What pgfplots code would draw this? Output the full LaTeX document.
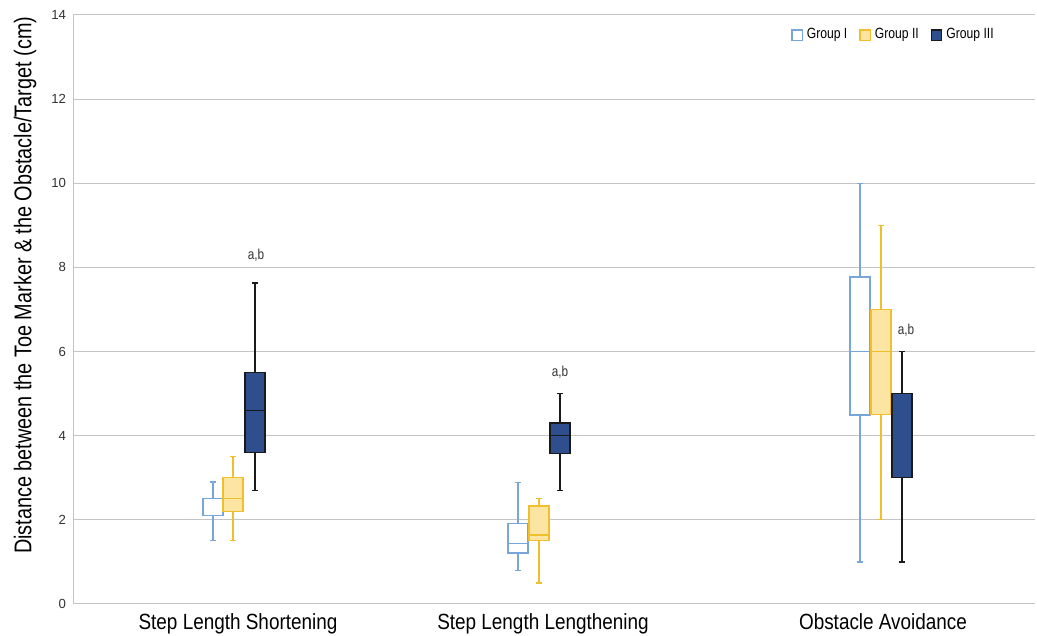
\documentclass[border=0pt]{standalone}
\usepackage{fontspec}
\setmainfont{Liberation Sans}
\newfontfamily\cond[FakeStretch=0.82]{Liberation Sans}
\newfontfamily\condb[FakeStretch=0.86]{Liberation Sans}
\usepackage{pgfplots}
\pgfplotsset{compat=1.18}
\usepgfplotslibrary{statistics}
\definecolor{gIe}{HTML}{78A5DA}
\definecolor{gIIe}{HTML}{F2BF2C}
\definecolor{gIIf}{HTML}{FCE5A3}
\definecolor{gIIIf}{HTML}{2F4E8E}
\definecolor{gIIIe}{HTML}{1A1A1A}
\definecolor{gridc}{HTML}{C4C4C4}
\begin{document}
\begin{tikzpicture}
\useasboundingbox (0pt,0pt) rectangle (518.5pt,318pt);
\begin{axis}[
  at={(36.5pt,16pt)}, anchor=south west,
  scale only axis, width=481pt, height=294.5pt,
  xmin=0.73, xmax=10.35, ymin=0, ymax=14,
  ytick={0,2,...,14},
  xtick={2.38,5.43,8.83},
  xticklabels={Step Length Shortening,Step Length Lengthening,Obstacle Avoidance},
  x tick label style={font=\condb\fontsize{11}{13}\selectfont, yshift=-1pt},
  y tick label style={font=\fontsize{6.6}{8}\selectfont, text=black!80},
  /pgf/number format/assume math mode=true,
  major tick length=0pt,
  ymajorgrids, grid style={gridc, line width=0.5pt},
  axis x line*=bottom, axis y line*=left,
  axis line style={gridc, line width=0.5pt},
  ylabel={Distance between the Toe Marker \& the Obstacle/Target (cm)},
  ylabel style={font=\cond\fontsize{12.1}{14}\selectfont, at={(ticklabel cs:0.541)}, yshift=0.5pt},
  legend style={at={(0.9678,0.9657)}, anchor=east, draw=none, fill=none,
    font=\cond\fontsize{7.4}{8}\selectfont, legend columns=3,
    /tikz/every even column/.append style={column sep=4pt}},
  legend image code/.code={\draw[#1] (0pt,-2.6pt) rectangle (5.2pt,2.6pt);},
  boxplot/draw direction=y,
  boxplot/box extend=0.20, boxplot/whisker extend=0.06,
]
\addlegendimage{draw=gIe, fill=white, line width=0.6pt}
\addlegendentry{Group I}
\addlegendimage{draw=gIIe, fill=gIIf, line width=0.6pt}
\addlegendentry{Group II}
\addlegendimage{draw=gIIIe, fill=gIIIf, line width=0.6pt}
\addlegendentry{Group III}
% Step Length Shortening
\addplot[forget plot, draw=gIe, fill=white, line width=0.6pt, boxplot prepared={draw position=2.13,
  lower whisker=1.5, lower quartile=2.1, median=2.1, upper quartile=2.5, upper whisker=2.9}] coordinates {};
\addplot[forget plot, draw=gIIe, fill=gIIf, line width=0.6pt, boxplot prepared={draw position=2.33,
  lower whisker=1.5, lower quartile=2.2, median=2.5, upper quartile=3.0, upper whisker=3.5}] coordinates {};
\addplot[forget plot, draw=gIIIe, fill=gIIIf, line width=0.6pt, boxplot prepared={draw position=2.55,
  lower whisker=2.7, lower quartile=3.6, median=4.6, upper quartile=5.5, upper whisker=7.63}] coordinates {};
% Step Length Lengthening
\addplot[forget plot, draw=gIe, fill=white, line width=0.6pt, boxplot prepared={draw position=5.18,
  lower whisker=0.8, lower quartile=1.21, median=1.43, upper quartile=1.92, upper whisker=2.88}] coordinates {};
\addplot[forget plot, draw=gIIe, fill=gIIf, line width=0.6pt, boxplot prepared={draw position=5.39,
  lower whisker=0.5, lower quartile=1.5, median=1.64, upper quartile=2.33, upper whisker=2.5}] coordinates {};
\addplot[forget plot, draw=gIIIe, fill=gIIIf, line width=0.6pt, boxplot prepared={draw position=5.60,
  lower whisker=2.7, lower quartile=3.58, median=4.0, upper quartile=4.3, upper whisker=5.0}] coordinates {};
% Obstacle Avoidance
\addplot[forget plot, draw=gIe, fill=white, line width=0.6pt, boxplot prepared={draw position=8.60,
  lower whisker=1.0, lower quartile=4.49, median=6.0, upper quartile=7.77, upper whisker=10.0}] coordinates {};
\addplot[forget plot, draw=gIIe, fill=gIIf, line width=0.6pt, boxplot prepared={draw position=8.81,
  lower whisker=2.0, lower quartile=4.5, median=6.0, upper quartile=7.0, upper whisker=9.0}] coordinates {};
\addplot[forget plot, draw=gIIIe, fill=gIIIf, line width=0.6pt, boxplot prepared={draw position=9.02,
  lower whisker=1.0, lower quartile=3.0, median=3.0, upper quartile=5.0, upper whisker=6.0}] coordinates {};
\node[font=\cond\fontsize{7.2}{8}\selectfont, text=black!80] at (axis cs:2.56,8.3) {a,b};
\node[font=\cond\fontsize{7.2}{8}\selectfont, text=black!80] at (axis cs:5.60,5.52) {a,b};
\node[font=\cond\fontsize{7.2}{8}\selectfont, text=black!80] at (axis cs:9.06,6.5) {a,b};
\end{axis}
\end{tikzpicture}
\end{document}
